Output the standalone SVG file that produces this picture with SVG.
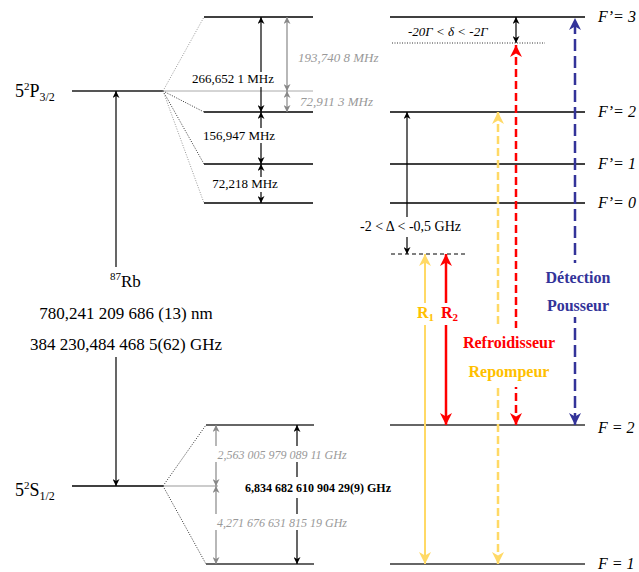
<svg xmlns="http://www.w3.org/2000/svg" width="639" height="572" viewBox="0 0 639 572">
<style>
text{font-family:"Liberation Serif","Times New Roman",serif;fill:#000}
.lvl{stroke:#000;stroke-width:1.3}
.glvl{stroke:#666;stroke-width:2.2}
.dot{stroke:#333;stroke-width:1;stroke-dasharray:1,1.5}
.gdot{stroke:#999;stroke-width:1;stroke-dasharray:1,1.5}
.ab{stroke:#000;stroke-width:1.2;marker-start:url(#mB);marker-end:url(#mB)}
.ag{stroke:#888;stroke-width:1.2;marker-start:url(#mG);marker-end:url(#mG)}
.m13{font-size:13px}
.gi{font-size:13px;font-style:italic;fill:#999}
.gi12{font-size:12px;font-style:italic;fill:#999}
.fl{font-size:16px;font-style:italic}
.wb{fill:#fff}
</style>
<defs>
<marker id="mB" viewBox="0 0 10 10" refX="10" refY="5" markerWidth="7" markerHeight="7" markerUnits="userSpaceOnUse" orient="auto-start-reverse"><path d="M0,0L10,5L0,10L3,5z" fill="#000"/></marker>
<marker id="mG" viewBox="0 0 10 10" refX="10" refY="5" markerWidth="7" markerHeight="7" markerUnits="userSpaceOnUse" orient="auto-start-reverse"><path d="M0,0L10,5L0,10L3,5z" fill="#888"/></marker>
<marker id="mR" viewBox="0 0 10 10" refX="10" refY="5" markerWidth="12" markerHeight="12" markerUnits="userSpaceOnUse" orient="auto-start-reverse"><path d="M0,0L10,5L0,10L3,5z" fill="#ff0000"/></marker>
<marker id="mY" viewBox="0 0 10 10" refX="10" refY="5" markerWidth="12" markerHeight="12" markerUnits="userSpaceOnUse" orient="auto-start-reverse"><path d="M0,0L10,5L0,10L3,5z" fill="#ffd966"/></marker>
<marker id="mL" viewBox="0 0 10 10" refX="10" refY="5" markerWidth="12" markerHeight="12" markerUnits="userSpaceOnUse" orient="auto-start-reverse"><path d="M0,0L10,5L0,10L3,5z" fill="#333399"/></marker>
</defs>

<g id="P32">
<line x1="72" y1="91" x2="163" y2="91" stroke="#555" stroke-width="2"/>
<line x1="163" y1="91" x2="313" y2="91" stroke="#aaa" stroke-width="1"/>
<text x="15" y="97" font-size="18">5<tspan font-size="11" dy="-7">2</tspan><tspan dy="7">P</tspan><tspan font-size="12" dy="4">3/2</tspan></text>
</g>
<g id="P32hf">
<line class="gdot" x1="163" y1="91" x2="204" y2="17"/>
<line class="dot" x1="163" y1="91" x2="204" y2="112"/>
<line class="dot" x1="163" y1="91" x2="204" y2="164"/>
<line class="gdot" x1="163" y1="91" x2="204" y2="203"/>
<line class="lvl" x1="204" y1="17" x2="313" y2="17"/>
<line class="lvl" x1="204" y1="112" x2="313" y2="112"/>
<line class="lvl" x1="204" y1="164" x2="313" y2="164"/>
<line class="lvl" x1="204" y1="203" x2="313" y2="203"/>
</g>
<g id="S12">
<line x1="72" y1="486" x2="163" y2="486" stroke="#000" stroke-width="1.5"/>
<line x1="163" y1="486" x2="218" y2="486" stroke="#999" stroke-width="1"/>
<text x="15" y="496" font-size="18">5<tspan font-size="11" dy="-7">2</tspan><tspan dy="7">S</tspan><tspan font-size="12" dy="4">1/2</tspan></text>
</g>
<g id="S12hf">
<line class="dot" x1="163" y1="486" x2="206" y2="425"/>
<line class="dot" x1="163" y1="486" x2="206" y2="564"/>
<line class="glvl" x1="206" y1="425" x2="314" y2="425"/>
<line class="glvl" x1="206" y1="564" x2="314" y2="564"/>
</g>
<g id="Fp">
<line class="lvl" x1="390" y1="17" x2="585" y2="17"/>
<line class="lvl" x1="390" y1="112" x2="585" y2="112"/>
<line class="lvl" x1="390" y1="164" x2="585" y2="164"/>
<line class="lvl" x1="390" y1="203" x2="585" y2="203"/>
<line class="dot" x1="392" y1="43" x2="545" y2="43" stroke="#000"/>
<text class="fl" x="598" y="22">F’= 3</text>
<text class="fl" x="598" y="117">F’= 2</text>
<text class="fl" x="598" y="169">F’= 1</text>
<text class="fl" x="598" y="208">F’= 0</text>
</g>
<g id="F">
<line class="glvl" x1="390" y1="425" x2="585" y2="425"/>
<line class="glvl" x1="390" y1="564" x2="585" y2="564"/>
<text class="fl" x="598" y="433">F = 2</text>
<text class="fl" x="598" y="569">F = 1</text>
</g>

<g id="connectors">
<line class="ab" x1="261" y1="17" x2="261" y2="112"/>
<line class="ab" x1="261" y1="112" x2="261" y2="164"/>
<line class="ab" x1="261" y1="164" x2="261" y2="203"/>
<line class="ag" x1="287" y1="17" x2="287" y2="91"/>
<line class="ag" x1="287" y1="91" x2="287" y2="112"/>
<line stroke="#000" stroke-width="1.2" x1="116" y1="267" x2="116" y2="91" marker-end="url(#mB)"/>
<line stroke="#000" stroke-width="1.2" x1="116" y1="357" x2="116" y2="486" marker-end="url(#mB)"/>
<line class="ag" x1="216" y1="425" x2="216" y2="486"/>
<line class="ag" x1="216" y1="486" x2="216" y2="564"/>
<line class="ab" x1="297" y1="425" x2="297" y2="564"/>
<line class="ab" x1="516" y1="17" x2="516" y2="43"/>
<line stroke="#000" stroke-width="1.2" x1="407" y1="217" x2="407" y2="112" marker-end="url(#mB)"/>
<line stroke="#000" stroke-width="1.2" x1="407" y1="237" x2="407" y2="254" marker-end="url(#mB)"/>
<line stroke="#000" stroke-width="1" stroke-dasharray="4,3" x1="391" y1="254" x2="465" y2="254"/>
<line stroke="#ffd966" stroke-width="2" x1="425" y1="564" x2="425" y2="254" marker-start="url(#mY)" marker-end="url(#mY)"/>
<line stroke="#ff0000" stroke-width="2.5" x1="446" y1="425" x2="446" y2="254" marker-start="url(#mR)" marker-end="url(#mR)"/>
<line stroke="#ffd966" stroke-width="2.5" stroke-dasharray="8,4" x1="498" y1="564" x2="498" y2="112" marker-start="url(#mY)" marker-end="url(#mY)"/>
<line stroke="#ff0000" stroke-width="2.5" stroke-dasharray="8,4" x1="516" y1="425" x2="516" y2="45" marker-start="url(#mR)" marker-end="url(#mR)"/>
<line stroke="#333399" stroke-width="2.5" stroke-dasharray="12,5" x1="575" y1="425" x2="575" y2="18" marker-start="url(#mL)" marker-end="url(#mL)"/>
</g>

<g id="labels">
<rect class="wb" x="192" y="72" width="82" height="15"/>
<text class="m13" x="233" y="83" text-anchor="middle">266,652 1 MHz</text>
<text class="gi" x="298" y="62">193,740 8 MHz</text>
<text class="gi" x="300" y="106">72,911 3 MHz</text>
<rect class="wb" x="203" y="128" width="73" height="15"/>
<text class="m13" x="239" y="140" text-anchor="middle">156,947 MHz</text>
<rect class="wb" x="212" y="177" width="66" height="15"/>
<text class="m13" x="245" y="188" text-anchor="middle">72,218 MHz</text>

<text x="110" y="287" font-size="17"><tspan font-size="11" dy="-7">87</tspan><tspan dy="7">Rb</tspan></text>
<text x="126" y="319" font-size="17" text-anchor="middle">780,241 209 686 (13) nm</text>
<text x="126" y="350" font-size="17" text-anchor="middle">384 230,484 468 5(62) GHz</text>

<rect class="wb" x="212" y="446" width="141" height="16"/>
<text class="gi12" x="282" y="459" text-anchor="middle">2,563 005 979 089 11 GHz</text>
<rect class="wb" x="212" y="514" width="141" height="16"/>
<text class="gi12" x="282" y="527" text-anchor="middle">4,271 676 631 815 19 GHz</text>
<rect class="wb" x="238" y="477" width="160" height="21"/>
<text x="318" y="492" font-size="12" font-weight="bold" text-anchor="middle">6,834 682 610 904 29(9) GHz</text>

<text x="408" y="36" font-size="13" font-style="italic">-20Γ &lt; δ &lt; -2Γ</text>
<text x="360" y="231" font-size="14">-2 &lt; Δ &lt; -0,5 GHz</text>

<rect class="wb" x="415" y="303" width="46" height="22"/>
<text x="417" y="318" font-size="16" font-weight="bold" fill="#ffc000" style="fill:#ffc000">R<tspan font-size="11" dy="3">1</tspan></text>
<text x="441" y="318" font-size="16" font-weight="bold" style="fill:#ff0000">R<tspan font-size="11" dy="3">2</tspan></text>

<rect class="wb" x="460" y="328" width="98" height="59"/>
<text x="509" y="348" font-size="16" font-weight="bold" text-anchor="middle" style="fill:#ff0000">Refroidisseur</text>
<text x="509" y="377" font-size="16" font-weight="bold" text-anchor="middle" style="fill:#ffc000">Repompeur</text>

<rect class="wb" x="544" y="263" width="70" height="54"/>
<text x="578" y="283" font-size="16" font-weight="bold" text-anchor="middle" style="fill:#333399">Détection</text>
<text x="578" y="311" font-size="16" font-weight="bold" text-anchor="middle" style="fill:#333399">Pousseur</text>
</g>
</svg>
